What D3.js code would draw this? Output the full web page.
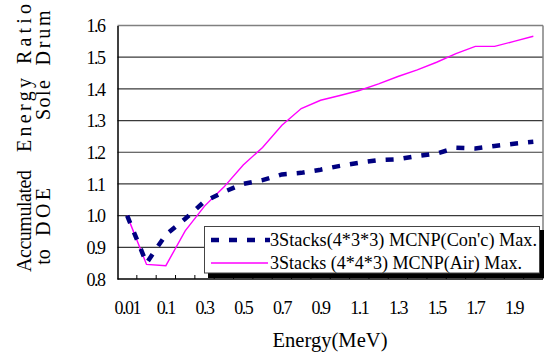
<!DOCTYPE html>
<html>
<head>
<meta charset="utf-8">
<script src="https://cdn.jsdelivr.net/npm/d3@7"></script>
<style>
  html, body { margin: 0; padding: 0; background: #fff; }
  svg { display: block; }
</style>
</head>
<body>
<svg id="chart" width="546" height="358"></svg>
<script>
// ---- data ----
const categories = ["0.01","0.05","0.1","0.2","0.3","0.4","0.5","0.6","0.7","0.8","0.9","1.0",
                    "1.1","1.2","1.3","1.4","1.5","1.6","1.7","1.8","1.9","2.0"];
const concValues = [1.00, 0.85, 0.94, 0.99, 1.045, 1.075, 1.10, 1.112, 1.13, 1.135, 1.145, 1.157,
                    1.167, 1.175, 1.178, 1.188, 1.196, 1.214, 1.212, 1.22, 1.227, 1.233];
const airValues  = [1.00, 0.846, 0.842, 0.952, 1.03, 1.09, 1.16, 1.215, 1.285, 1.338, 1.364, 1.379,
                    1.395, 1.416, 1.439, 1.46, 1.484, 1.511, 1.534, 1.534, 1.55, 1.566];
const yTicks = [0.8, 0.9, 1.0, 1.1, 1.2, 1.3, 1.4, 1.5, 1.6];
const xTickLabels = ["0.01","0.1","0.3","0.5","0.7","0.9","1.1","1.3","1.5","1.7","1.9"];
const seriesNames = ["3Stacks(4*3*3) MCNP(Con'c) Max.", "3Stacks (4*4*3) MCNP(Air) Max."];
const yTitleLine1 = ["Accumulated", "Energy", "Ratio"];
const yTitleLine2 = ["to", "DOE", "Sole", "Drum"];
const xTitle = "Energy(MeV)";

const SERIF = "Liberation Serif";

// ---- layout ----
const svg = d3.select("#chart");
const L = 117.5, R = 543, T = 25.5, B = 279;

const x = d3.scaleBand().domain(categories).range([L, R]).padding(0);
const y = d3.scaleLinear().domain([0.8, 1.6]).range([B, T]);
const cx = c => x(c) + x.bandwidth() / 2;

// gridlines
svg.append("g").selectAll("line").data(yTicks.filter(v => v > 0.8 && v < 1.6)).join("line")
  .attr("x1", L).attr("x2", R).attr("y1", d => y(d)).attr("y2", d => y(d))
  .attr("stroke", "#3a3a3a").attr("stroke-width", 1.2);

// plot frame top/right
svg.append("line").attr("x1", L).attr("x2", R).attr("y1", y(1.6)).attr("y2", y(1.6))
  .attr("stroke", "#808080").attr("stroke-width", 1.5);
svg.append("line").attr("x1", R).attr("x2", R).attr("y1", T).attr("y2", B)
  .attr("stroke", "#808080").attr("stroke-width", 1.5);

// y axis
const yAxis = d3.axisLeft(y).tickValues(yTicks).tickSize(0).tickPadding(13)
  .tickFormat(d3.format(".1f"));
const gy = svg.append("g").attr("transform", `translate(${L},0)`).call(yAxis)
  .attr("font-family", SERIF).attr("font-size", 18);
gy.select(".domain").attr("stroke", "#000").attr("stroke-width", 1.5);
gy.selectAll("text").attr("font-family", SERIF).attr("font-size", 18)
  .attr("letter-spacing", "-1.5").attr("fill", "#000").attr("dy", "0.35em");

// x axis: ticks between categories (inward), labels every other category
const gx = svg.append("g");
gx.append("line").attr("x1", L).attr("x2", R).attr("y1", B).attr("y2", B)
  .attr("stroke", "#000").attr("stroke-width", 1.5);
gx.selectAll("line.tk").data(categories.slice(1)).join("line").attr("class", "tk")
  .attr("x1", d => x(d)).attr("x2", d => x(d)).attr("y1", B).attr("y2", B - 4)
  .attr("stroke", "#000").attr("stroke-width", 1);
gx.selectAll("text").data(xTickLabels).join("text")
  .attr("x", d => cx(categories.find(c => parseFloat(c) === parseFloat(d))))
  .attr("y", 314).attr("text-anchor", "middle")
  .attr("font-family", SERIF).attr("font-size", 18).attr("letter-spacing", "-1.5")
  .text(d => d);

// lines
const line = vals => d3.line().x((d, i) => cx(categories[i])).y(d => y(d))(vals);
svg.append("path").attr("d", line(airValues)).attr("fill", "none")
  .attr("stroke", "#ff00ff").attr("stroke-width", 1.4);
svg.append("path").attr("d", line(concValues)).attr("fill", "none")
  .attr("stroke", "#000080").attr("stroke-width", 4.5).attr("stroke-dasharray", "8,10");

// legend
const lg = svg.append("g");
lg.append("rect").attr("x", 208).attr("y", 230).attr("width", 336).attr("height", 48).attr("fill", "#000");
lg.append("rect").attr("x", 204.5).attr("y", 226.5).attr("width", 335).attr("height", 46.5)
  .attr("fill", "#fff").attr("stroke", "#444").attr("stroke-width", 1);
lg.append("line").attr("x1", 211).attr("x2", 270).attr("y1", 240).attr("y2", 240)
  .attr("stroke", "#000080").attr("stroke-width", 4.5).attr("stroke-dasharray", "8,10");
lg.append("line").attr("x1", 211).attr("x2", 268).attr("y1", 263).attr("y2", 263)
  .attr("stroke", "#ff00ff").attr("stroke-width", 1.4);
lg.selectAll("text").data(seriesNames).join("text")
  .attr("x", 270).attr("y", (d, i) => 246 + i * 23)
  .attr("textLength", (d, i) => i === 0 ? 267 : 252).attr("lengthAdjust", "spacingAndGlyphs")
  .attr("font-family", SERIF).attr("font-size", 18).text(d => d);

// x title
svg.append("text").attr("x", 330).attr("y", 347).attr("text-anchor", "middle")
  .attr("textLength", 115).attr("lengthAdjust", "spacingAndGlyphs")
  .attr("font-family", SERIF).attr("font-size", 21).text(xTitle);

// y title (two rotated lines, words spread like justified vertical text)
const line1Pos = [221, 115, 34];
const line1Len = [102, 74, 60];
const line2Pos = [257, 212, 100, 38];
const line2Len = [null, 48, 40, 55];
yTitleLine1.forEach((w, i) => {
  svg.append("text").attr("transform", `translate(31,${line1Pos[i]}) rotate(-90)`)
    .attr("text-anchor", "middle").attr("font-family", SERIF).attr("font-size", 20)
    .attr("textLength", line1Len[i]).attr("lengthAdjust", "spacing").text(w);
});
yTitleLine2.forEach((w, i) => {
  const t = svg.append("text").attr("transform", `translate(50,${line2Pos[i]}) rotate(-90)`)
    .attr("text-anchor", "middle").attr("font-family", SERIF).attr("font-size", 20).text(w);
  if (line2Len[i]) t.attr("textLength", line2Len[i]).attr("lengthAdjust", "spacing");
});
</script>
</body>
</html>
